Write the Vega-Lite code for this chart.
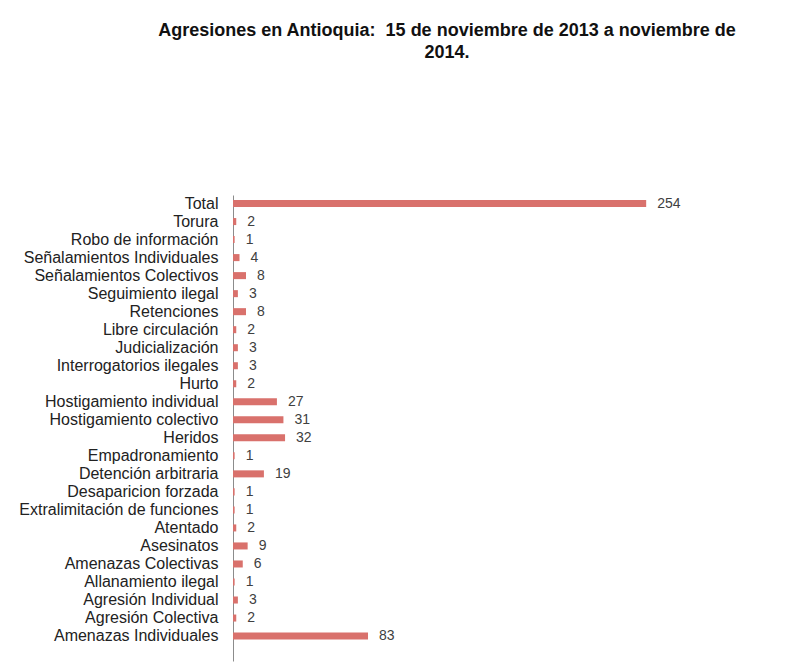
{
  "$schema": "https://vega.github.io/schema/vega-lite/v6.json",
  "width": 488,
  "height": 466,
  "autosize": {"type": "none"},
  "padding": {"left": 233, "top": 195, "right": 71, "bottom": 5},
  "background": "white",
  "config": {"view": {"stroke": null}},
  "title": {
    "text": ["Agresiones en Antioquia: \u00a015 de noviembre de 2013 a noviembre de", "2014."],
    "anchor": "middle",
    "frame": "group",
    "dx": -30,
    "offset": 133,
    "font": "Liberation Sans",
    "fontSize": 18,
    "fontWeight": "bold",
    "color": "#111111",
    "lineHeight": 22
  },
  "data": {
    "values": [
      {"categoria": "Total", "valor": 254},
      {"categoria": "Torura", "valor": 2},
      {"categoria": "Robo de información", "valor": 1},
      {"categoria": "Señalamientos Individuales", "valor": 4},
      {"categoria": "Señalamientos Colectivos", "valor": 8},
      {"categoria": "Seguimiento ilegal", "valor": 3},
      {"categoria": "Retenciones", "valor": 8},
      {"categoria": "Libre circulación", "valor": 2},
      {"categoria": "Judicialización", "valor": 3},
      {"categoria": "Interrogatorios ilegales", "valor": 3},
      {"categoria": "Hurto", "valor": 2},
      {"categoria": "Hostigamiento individual", "valor": 27},
      {"categoria": "Hostigamiento colectivo", "valor": 31},
      {"categoria": "Heridos", "valor": 32},
      {"categoria": "Empadronamiento", "valor": 1},
      {"categoria": "Detención arbitraria", "valor": 19},
      {"categoria": "Desaparicion forzada", "valor": 1},
      {"categoria": "Extralimitación de funciones", "valor": 1},
      {"categoria": "Atentado", "valor": 2},
      {"categoria": "Asesinatos", "valor": 9},
      {"categoria": "Amenazas Colectivas", "valor": 6},
      {"categoria": "Allanamiento ilegal", "valor": 1},
      {"categoria": "Agresión Individual", "valor": 3},
      {"categoria": "Agresión Colectiva", "valor": 2},
      {"categoria": "Amenazas Individuales", "valor": 83}
    ]
  },
  "encoding": {
    "y": {
      "field": "categoria",
      "type": "nominal",
      "sort": null,
      "scale": {"paddingInner": 0.61, "paddingOuter": 0.734, "align": 0.19},
      "axis": {
        "title": null,
        "ticks": false,
        "grid": false,
        "domainColor": "#8c8c8c",
        "domainWidth": 1,
        "labelPadding": 15,
        "labelFont": "Liberation Sans",
        "labelFontSize": 16,
        "labelColor": "#222222",
        "labelLimit": 0
      }
    },
    "x": {
      "field": "valor",
      "type": "quantitative",
      "scale": {"domain": [0, 300], "nice": false},
      "axis": null
    }
  },
  "layer": [
    {"mark": {"type": "bar", "color": "#d9716c"}},
    {
      "mark": {
        "type": "text",
        "align": "left",
        "baseline": "middle",
        "dx": 11,
        "font": "Liberation Sans",
        "fontSize": 14,
        "color": "#404040"
      },
      "encoding": {"text": {"field": "valor", "type": "quantitative"}}
    }
  ]
}
